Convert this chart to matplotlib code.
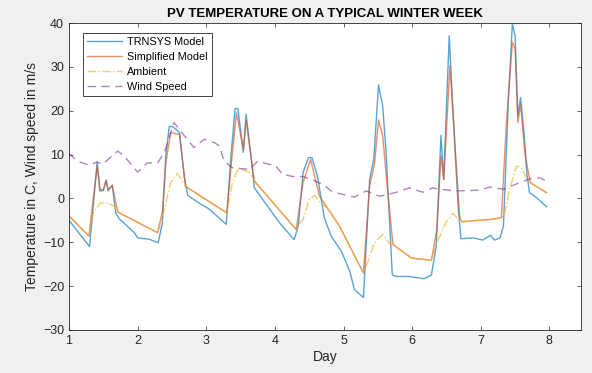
import matplotlib.pyplot as plt

plt.rcParams['font.family'] = ['Liberation Sans', 'DejaVu Sans']

trnsys_day = [1.0, 1.30, 1.41, 1.45, 1.50, 1.54, 1.57, 1.63, 1.68, 1.73, 1.95, 2.0, 2.17, 2.30,
              2.36, 2.41, 2.46, 2.51, 2.61, 2.68, 2.73, 2.90, 3.04, 3.29, 3.36, 3.42, 3.46, 3.54,
              3.58, 3.64, 3.70, 3.77, 4.07, 4.28, 4.34, 4.41, 4.49, 4.54, 4.62, 4.72, 4.82, 4.97,
              5.09, 5.16, 5.29, 5.38, 5.44, 5.51, 5.57, 5.62, 5.71, 5.77, 5.96, 6.17, 6.28, 6.35,
              6.42, 6.46, 6.54, 6.60, 6.67, 6.71, 6.89, 7.03, 7.14, 7.20, 7.28, 7.33, 7.40, 7.46,
              7.50, 7.54, 7.58, 7.63, 7.67, 7.71, 7.81, 7.96]
trnsys_val = [-5.0, -11.0, 8.3, 1.7, 1.8, 4.2, 1.7, 3.0, -3.3, -4.6, -7.8, -9.0, -9.3, -10.1,
              -5.6, 9.7, 16.4, 16.4, 15.0, 4.7, 0.7, -1.1, -2.4, -5.9, 9.7, 20.5, 20.5, 10.5,
              19.2, 11.2, 2.4, 0.9, -5.6, -9.4, -6.3, 5.9, 9.3, 9.3, 5.1, -4.4, -8.6, -12.1,
              -16.6, -20.8, -22.6, 4.3, 8.9, 25.9, 21.1, 10.5, -17.4, -17.8, -17.8, -18.3, -17.5, -10.9,
              14.4, 4.3, 37.1, 18.1, -1.8, -9.2, -9.0, -9.5, -8.4, -9.5, -9.0, -6.3, 21.9, 39.8,
              37.1, 18.9, 23.0, 15.0, 5.9, 1.3, 0.2, -1.9]

simple_day = [1.0, 1.29, 1.41, 1.45, 1.50, 1.54, 1.57, 1.63, 1.71, 2.29, 2.36, 2.41, 2.48, 2.61,
              2.70, 3.30, 3.38, 3.44, 3.54, 3.58, 3.70, 4.31, 4.41, 4.52, 4.65, 4.94, 4.99, 5.29,
              5.38, 5.45, 5.51, 5.57, 5.65, 5.72, 5.99, 6.28, 6.36, 6.42, 6.46, 6.55, 6.61, 6.69,
              6.72, 7.13, 7.30, 7.37, 7.46, 7.50, 7.54, 7.58, 7.64, 7.72, 7.96]
simple_val = [-4.0, -8.6, 7.4, 2.0, 2.0, 4.0, 2.0, 3.0, -3.1, -7.8, -3.0, 8.0, 15.0, 14.6,
              2.7, -3.3, 10.5, 19.5, 11.2, 17.7, 4.0, -7.1, 3.6, 8.9, 0.5, -6.3, -7.8, -17.0,
              2.8, 7.8, 17.9, 14.3, 0.5, -10.5, -13.6, -14.1, -7.1, 9.7, 4.3, 30.3, 15.8, -4.0,
              -5.3, -4.8, -4.4, 16.5, 35.6, 34.1, 17.3, 21.5, 10.5, 3.6, 1.3]

amb_day = [1.0, 1.29, 1.36, 1.46, 1.56, 1.66, 1.71, 2.29, 2.39, 2.48, 2.58, 2.65, 2.70, 3.30,
           3.38, 3.47, 3.63, 3.70, 4.31, 4.41, 4.50, 4.58, 4.66, 4.75, 4.94, 4.99, 5.29, 5.33,
           5.45, 5.57, 5.70, 5.72, 5.99, 6.28, 6.35, 6.50, 6.60, 6.69, 6.72, 7.13, 7.30, 7.35,
           7.42, 7.52, 7.59, 7.68, 7.72, 7.96]
amb_val = [-4.0, -8.6, -2.9, -1.0, -1.0, -1.8, -3.1, -7.8, -2.5, 3.6, 5.7, 4.0, 2.7, -3.3,
           3.6, 7.0, 5.9, 4.0, -7.1, -4.8, -0.2, 0.7, -1.0, -2.0, -6.3, -7.8, -17.0, -15.5,
           -10.1, -8.2, -10.9, -10.5, -13.6, -14.1, -10.5, -5.2, -3.4, -5.2, -5.3, -4.8, -4.4, -3.3,
           2.1, 7.4, 7.0, 4.3, 3.6, 1.3]

wind_day = [1.0, 1.12, 1.29, 1.41, 1.49, 1.71, 1.80, 2.00, 2.14, 2.29, 2.39, 2.53, 2.68, 2.82,
            2.97, 3.12, 3.19, 3.26, 3.38, 3.63, 3.75, 4.02, 4.11, 4.26, 4.41, 4.55, 4.70, 4.82,
            4.94, 5.16, 5.33, 5.53, 5.77, 5.96, 6.16, 6.30, 6.40, 6.64, 6.99, 7.13, 7.33, 7.57,
            7.74, 7.86, 7.95]
wind_val = [10.3, 8.5, 7.6, 8.3, 7.8, 10.8, 9.7, 6.0, 8.1, 8.1, 10.5, 17.3, 14.3, 11.6,
            13.5, 12.7, 12.0, 8.5, 7.0, 6.6, 8.5, 7.3, 5.5, 5.0, 5.0, 4.2, 3.2, 1.7,
            1.1, 0.3, 1.7, 0.5, 1.4, 2.4, 1.4, 2.4, 2.1, 1.7, 1.9, 2.6, 2.1, 3.6,
            4.6, 4.7, 4.0]

fig = plt.figure(figsize=(5.92, 3.73), dpi=100, facecolor='#f0f0f0')
ax = fig.add_axes([0.1166, 0.1153, 0.8648, 0.823])

ax.plot(trnsys_day, trnsys_val, color='#0072BD', lw=1.0, alpha=0.65, label='TRNSYS Model')
ax.plot(simple_day, simple_val, color='#D95319', lw=1.0, alpha=0.65, label='Simplified Model')
ax.plot(amb_day, amb_val, color='#EDB120', lw=1.0, alpha=0.65, ls='-.', label='Ambient')
ax.plot(wind_day, wind_val, color='#7E2F8E', lw=1.0, alpha=0.6, ls=(0, (6, 4)), label='Wind Speed')

ax.set_xlim(1, 8.46)
ax.set_ylim(-30, 40)
ax.set_xticks(range(1, 9))
ax.set_yticks(range(-30, 41, 10))
ax.tick_params(direction='in', top=True, right=True, labelsize=9, colors='#262626',
               length=3, width=0.5)
for s in ax.spines.values():
    s.set_linewidth(0.6)
    s.set_color('#262626')

ax.set_title('PV TEMPERATURE ON A TYPICAL WINTER WEEK', fontsize=9.5, fontweight='bold', pad=4)
ax.set_xlabel('Day', fontsize=10, color='#262626', labelpad=2)
ax.set_ylabel('Temperature in C, Wind speed in m/s', fontsize=10, color='#262626', labelpad=3)

leg = ax.legend(loc='upper left', bbox_to_anchor=(0.027, 0.968), fontsize=7.8, fancybox=False,
                edgecolor='#262626', framealpha=1, borderpad=0.4, labelspacing=0.45,
                handlelength=3.2, handletextpad=0.5, borderaxespad=0)
leg.get_frame().set_linewidth(0.6)

fig.savefig('out.png', dpi=100, facecolor=fig.get_facecolor())
